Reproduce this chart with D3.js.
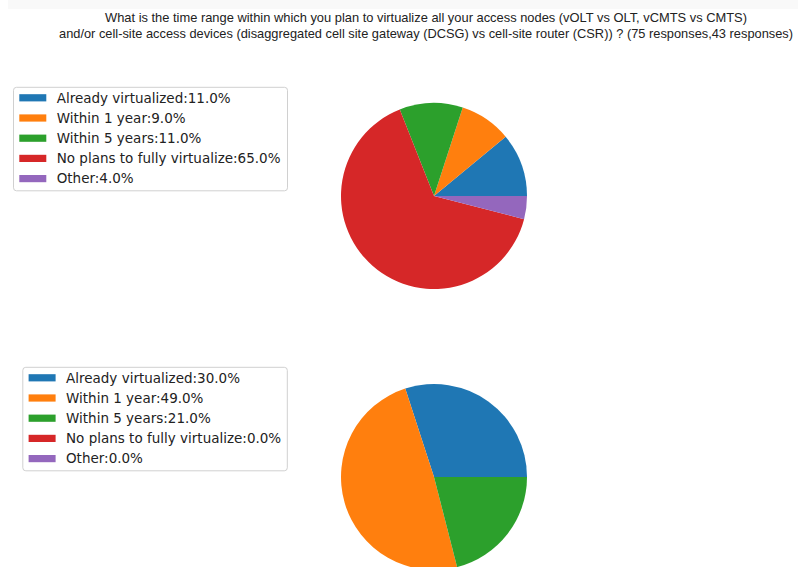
<!DOCTYPE html>
<html>
<head>
<meta charset="utf-8">
<script src="https://cdn.jsdelivr.net/npm/d3@7"></script>
<style>
  html, body { margin: 0; padding: 0; background: #fff; }
  svg { display: block; }
</style>
</head>
<body>
<script>
// ---- data ----
const categories = ["Already virtualized", "Within 1 year", "Within 5 years", "No plans to fully virtualize", "Other"];
const valuesAccessNodes = [11.0, 9.0, 11.0, 65.0, 4.0];   // 75 responses
const valuesCellSite = [30.0, 49.0, 21.0, 0.0, 0.0];       // 43 responses
const colors = ["#1f77b4", "#ff7f0e", "#2ca02c", "#d62728", "#9467bd"];
const titleLines = [
  "What is the time range within which you plan to virtualize all your access nodes (vOLT vs OLT, vCMTS vs CMTS)",
  "and/or cell-site access devices (disaggregated cell site gateway (DCSG) vs cell-site router (CSR)) ? (75 responses,43 responses)"
];

// ---- layout ----
const W = 798, H = 567;
const svg = d3.select("body").append("svg").attr("width", W).attr("height", H);

svg.append("rect").attr("x", 8).attr("y", 0).attr("width", W - 8).attr("height", 9).attr("fill", "#f9f9f9");

// title
const titleSpec = [{ y: 22, x: 426, len: 642 }, { y: 37.5, x: 426, len: 734 }];
titleLines.forEach((t, i) => {
  svg.append("text")
    .attr("x", titleSpec[i].x).attr("y", titleSpec[i].y)
    .attr("text-anchor", "middle")
    .attr("font-family", "Liberation Sans, Arial, sans-serif")
    .attr("font-size", 12.2)
    .attr("fill", "#222")
    .attr("textLength", titleSpec[i].len)
    .attr("lengthAdjust", "spacingAndGlyphs")
    .text(t);
});

const color = d3.scaleOrdinal().domain(categories).range(colors);
const pie = d3.pie().sort(null).value(d => d.v)
  .startAngle(Math.PI / 2).endAngle(Math.PI / 2 - 2 * Math.PI);
const R = 93;
const arc = d3.arc().innerRadius(0).outerRadius(R);

function drawPie(values, cx, cy, legend) {
  const data = categories.map((c, i) => ({ c, v: values[i] }));
  const g = svg.append("g").attr("transform", `translate(${cx},${cy})`);
  g.selectAll("path").data(pie(data)).join("path")
    .attr("d", arc)
    .attr("fill", d => color(d.data.c));

  // legend
  const lg = svg.append("g").attr("transform", `translate(${legend.x},${legend.y})`);
  lg.append("rect")
    .attr("x", 0).attr("y", 0).attr("width", legend.w).attr("height", 103.5)
    .attr("rx", 3).attr("ry", 3)
    .attr("fill", "#fff").attr("stroke", "#d0d0d0").attr("stroke-width", 1);
  const rowY = d3.scaleLinear().domain([0, 1]).range([10.5, 30.7]);
  data.forEach((d, i) => {
    const y = rowY(i);
    lg.append("rect")
      .attr("x", 5.8).attr("y", y - 3.6).attr("width", 27).attr("height", 7.2)
      .attr("fill", color(d.c));
    lg.append("text")
      .attr("x", 43.2).attr("y", y + 4.9)
      .attr("font-family", "DejaVu Sans, sans-serif")
      .attr("font-size", 13.5)
      .attr("fill", "#222")
      .text(`${d.c}:${d.v.toFixed(1)}%`);
  });
}

drawPie(valuesAccessNodes, 434, 196, { x: 13.5, y: 87.3, w: 274 });
drawPie(valuesCellSite, 434, 477, { x: 22.8, y: 367.3, w: 264.5 });
</script>
</body>
</html>
